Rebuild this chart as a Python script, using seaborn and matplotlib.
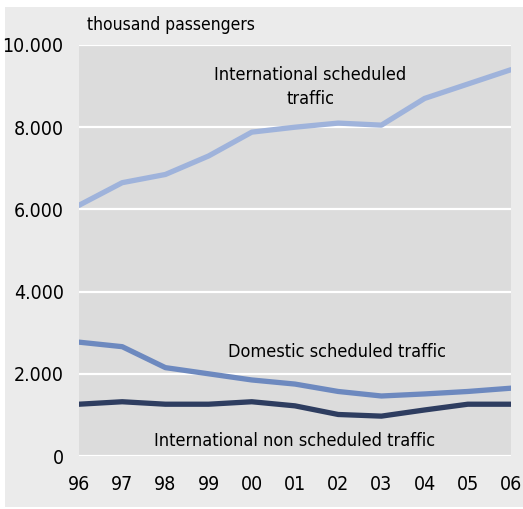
import numpy as np
import pandas as pd
import matplotlib
matplotlib.use("Agg")
import matplotlib.pyplot as plt
from matplotlib.patches import Rectangle
import seaborn as sns

# data (thousand passengers)
years = ["96", "97", "98", "99", "00", "01", "02", "03", "04", "05", "06"]
intl_scheduled = [6100, 6650, 6850, 7300, 7880, 8000, 8100, 8050, 8700, 9050, 9400]
domestic_scheduled = [2770, 2660, 2150, 2000, 1850, 1750, 1570, 1460, 1510, 1570, 1650]
intl_non_scheduled = [1260, 1320, 1260, 1260, 1320, 1220, 1010, 970, 1120, 1260, 1260]

series_names = ["International scheduled traffic", "Domestic scheduled traffic",
                "International non scheduled traffic"]
colors = ["#9fb3db", "#6d89bf", "#2e3d60"]

df = pd.DataFrame({
    "pos": list(range(len(years))) * 3,
    "value": intl_scheduled + domestic_scheduled + intl_non_scheduled,
    "series": np.repeat(series_names, len(years)),
})

sns.set_style("white")
plt.rcParams["font.family"] = ["DejaVu Sans"]
plt.rcParams["font.stretch"] = "condensed"
plt.rcParams["text.color"] = "black"

fig = plt.figure(figsize=(5.23, 5.09), dpi=100)
fig.patch.set_facecolor("white")
fig.patches.append(Rectangle((5 / 523, 2 / 509), 1 - 5 / 523, 1 - 9 / 509,
                             transform=fig.transFigure, facecolor="#ebebeb",
                             edgecolor="none", zorder=-10))

ax = fig.add_axes([79 / 523, 1 - 456 / 509, 432 / 523, 411 / 509])
ax.set_facecolor("#dcdcdc")

sns.lineplot(data=df, x="pos", y="value", hue="series", palette=colors,
             linewidth=3.8, legend=False, ax=ax, zorder=3)

ax.set_xlim(0, len(years) - 1)
ax.set_ylim(0, 10000)
ax.set_yticks([0, 2000, 4000, 6000, 8000, 10000])
ax.set_yticklabels(["0", "2.000", "4.000", "6.000", "8.000", "10.000"])
ax.set_xticks(range(len(years)))
ax.set_xticklabels(years)
ax.tick_params(axis="both", length=0, labelsize=14, colors="black")
ax.tick_params(axis="y", pad=11)
ax.tick_params(axis="x", pad=14)
ax.grid(axis="y", color="white", linewidth=1.6)
ax.set_axisbelow(True)
for s in ax.spines.values():
    s.set_visible(False)
ax.set_xlabel("")
ax.set_ylabel("")

# annotations
ax.text(5.35, 8980, "International scheduled\ntraffic", ha="center", va="center",
        fontsize=13, linespacing=1.45, color="black")
ax.text(5.97, 2530, "Domestic scheduled traffic", ha="center", va="center",
        fontsize=13, color="black")
ax.text(5.0, 365, "International non scheduled traffic", ha="center", va="center",
        fontsize=13, color="black")
fig.text(87 / 523, 1 - 25 / 509, "thousand passengers", ha="left", va="center",
         fontsize=12.5, color="black")

fig.savefig("out.png", dpi=100, facecolor=fig.get_facecolor())
